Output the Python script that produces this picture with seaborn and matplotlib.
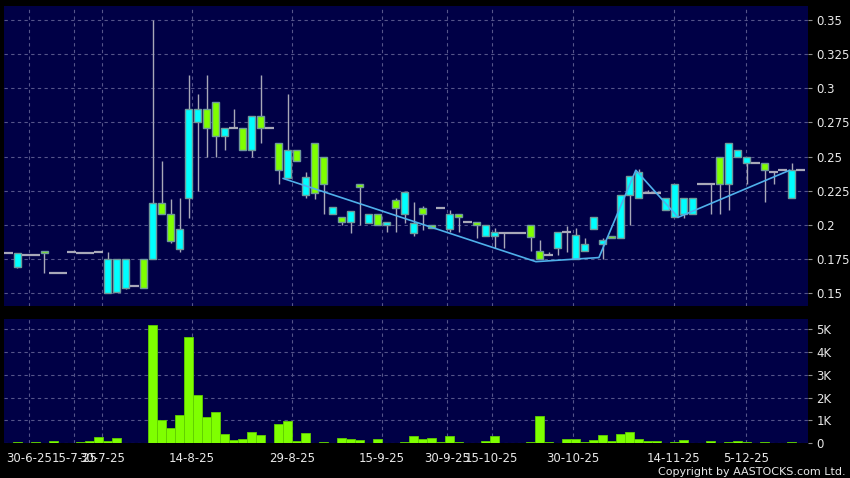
import numpy as np
import pandas as pd
import matplotlib
matplotlib.use("Agg")
import matplotlib.pyplot as plt
import seaborn as sns

# one slot per traded day
opens = [0.179, 0.169, 0.178, 0.178, 0.181, 0.165, 0.165, 0.180, 0.179, 0.179,
         0.180, 0.150, 0.151, 0.154, 0.155, 0.175, 0.175, 0.216, 0.208, 0.182,
         0.220, 0.275, 0.285, 0.290, 0.265, 0.271, 0.271, 0.255, 0.280, 0.271,
         0.260, 0.234, 0.255, 0.222, 0.260, 0.250, 0.208, 0.206, 0.202, 0.230,
         0.201, 0.208, 0.200, 0.218, 0.208, 0.194, 0.212, 0.200, 0.212, 0.197,
         0.208, 0.202, 0.202, 0.192, 0.192, 0.194, 0.194, 0.194, 0.200, 0.181,
         0.178, 0.183, 0.195, 0.175, 0.181, 0.197, 0.186, 0.192, 0.190, 0.222,
         0.220, 0.2235, 0.2235, 0.211, 0.206, 0.208, 0.208, 0.230, 0.230, 0.250,
         0.230, 0.250, 0.245, 0.245, 0.245, 0.239, 0.240, 0.220, 0.240]
highs = [0.179, 0.179, 0.178, 0.178, 0.181, 0.165, 0.165, 0.180, 0.179, 0.179,
         0.180, 0.180, 0.175, 0.175, 0.155, 0.175, 0.350, 0.247, 0.219, 0.220,
         0.310, 0.296, 0.310, 0.290, 0.271, 0.285, 0.271, 0.280, 0.310, 0.271,
         0.260, 0.296, 0.255, 0.239, 0.260, 0.250, 0.213, 0.206, 0.210, 0.230,
         0.208, 0.208, 0.202, 0.220, 0.224, 0.217, 0.214, 0.200, 0.212, 0.211,
         0.208, 0.202, 0.202, 0.200, 0.198, 0.194, 0.194, 0.194, 0.200, 0.189,
         0.180, 0.195, 0.199, 0.198, 0.190, 0.2055, 0.190, 0.192, 0.222, 0.236,
         0.241, 0.2255, 0.2235, 0.220, 0.230, 0.220, 0.220, 0.230, 0.230, 0.250,
         0.260, 0.255, 0.250, 0.245, 0.245, 0.239, 0.240, 0.245, 0.240]
lows = [0.179, 0.168, 0.178, 0.178, 0.165, 0.165, 0.165, 0.180, 0.179, 0.179,
        0.180, 0.150, 0.151, 0.153, 0.155, 0.154, 0.175, 0.208, 0.187, 0.180,
        0.205, 0.225, 0.250, 0.250, 0.255, 0.271, 0.255, 0.250, 0.260, 0.271,
        0.230, 0.234, 0.247, 0.220, 0.219, 0.208, 0.208, 0.200, 0.194, 0.200,
        0.201, 0.200, 0.195, 0.195, 0.201, 0.192, 0.196, 0.198, 0.212, 0.195,
        0.195, 0.202, 0.190, 0.192, 0.183, 0.183, 0.194, 0.194, 0.181, 0.175,
        0.178, 0.178, 0.180, 0.175, 0.181, 0.197, 0.175, 0.190, 0.190, 0.200,
        0.220, 0.2235, 0.2235, 0.211, 0.206, 0.205, 0.208, 0.230, 0.208, 0.208,
        0.211, 0.250, 0.230, 0.245, 0.217, 0.230, 0.240, 0.220, 0.240]
closes = [0.179, 0.179, 0.178, 0.178, 0.179, 0.165, 0.165, 0.180, 0.179, 0.179,
          0.180, 0.175, 0.175, 0.175, 0.155, 0.154, 0.216, 0.208, 0.188, 0.197,
          0.285, 0.285, 0.271, 0.265, 0.271, 0.271, 0.255, 0.280, 0.271, 0.271,
          0.240, 0.255, 0.247, 0.235, 0.223, 0.230, 0.213, 0.202, 0.210, 0.228,
          0.208, 0.200, 0.202, 0.212, 0.224, 0.201, 0.208, 0.198, 0.212, 0.208,
          0.206, 0.202, 0.200, 0.200, 0.195, 0.194, 0.194, 0.194, 0.191, 0.175,
          0.178, 0.195, 0.195, 0.1925, 0.186, 0.2055, 0.189, 0.190, 0.222, 0.236,
          0.239, 0.2235, 0.2235, 0.220, 0.230, 0.220, 0.220, 0.230, 0.230, 0.230,
          0.260, 0.255, 0.250, 0.245, 0.240, 0.239, 0.240, 0.240, 0.240]
volumes = [0, 70, 0, 40, 0, 100, 30, 0, 40, 90,
           260, 100, 230, 0, 0, 0, 5170, 1020, 660, 1240,
           4660, 2110, 1170, 1370, 410, 150, 200, 500, 350, 0,
           850, 960, 100, 450, 0, 40, 0, 230, 170, 130,
           0, 190, 0, 0, 40, 320, 190, 220, 40, 330,
           40, 0, 20, 100, 320, 0, 0, 0, 40, 1200,
           40, 0, 190, 200, 60, 150, 360, 100, 390, 500,
           170, 100, 100, 0, 40, 160, 0, 0, 100, 0,
           40, 90, 40, 0, 70, 0, 0, 40, 0]

# zigzag overlay
zz_slot = [30.5, 58.6, 65.6, 69.7, 74.4, 86.8]
zz_price = [0.234, 0.173, 0.176, 0.240, 0.2055, 0.240]

date_pos = [2.3, 7.3, 10.4, 20.4, 31.5, 41.5, 48.7, 53.7, 62.7, 73.9, 81.9]
date_labels = ["30-6-25", "15-7-25", "30-7-25", "14-8-25", "29-8-25", "15-9-25",
               "30-9-25", "15-10-25", "30-10-25", "14-11-25", "5-12-25"]
price_ticks = [0.15, 0.175, 0.2, 0.225, 0.25, 0.275, 0.3, 0.325, 0.35]
price_labels = ["0.15", "0.175", "0.2", "0.225", "0.25", "0.275", "0.3", "0.325", "0.35"]
vol_ticks = [0, 1000, 2000, 3000, 4000, 5000]
vol_labels = ["0", "1K", "2K", "3K", "4K", "5K"]

bg = "#000046"
cyan = "#00ffff"
lime = "#7fff00"
edge = "#6f9a9a"
wick = "#a8a8b8"
gridc = "#55558a"
txt = "#e8e8e8"

sns.set_style("dark", {"axes.facecolor": bg, "figure.facecolor": "black",
                       "axes.edgecolor": bg, "grid.color": gridc})
plt.rcParams["font.family"] = ["DejaVu Sans"]

df = pd.DataFrame({"open": opens, "high": highs, "low": lows,
                   "close": closes, "volume": volumes})
df["slot"] = np.arange(len(df))

fig = plt.figure(figsize=(8.5, 4.78), dpi=100)
ax = fig.add_axes([0.0047, 0.3598, 0.9459, 0.6276])
axv = fig.add_axes([0.0047, 0.0726, 0.9459, 0.2600])

xlim = (-0.5, 88.83)

# candles
up = df[df.close > df.open]
dn = df[df.close < df.open]
fl = df[df.close == df.open]
ax.vlines(df.slot, df.low, df.high, color=wick, lw=1, zorder=2)
ax.bar(up.slot, up.close - up.open, bottom=up.open, width=0.82,
       color=cyan, edgecolor=edge, linewidth=1, zorder=3)
ax.bar(dn.slot, dn.open - dn.close, bottom=dn.close, width=0.82,
       color=lime, edgecolor=edge, linewidth=1, zorder=3)
ax.hlines(fl.close, fl.slot - 0.5, fl.slot + 0.5, color=wick, lw=1.6, zorder=3)

sns.lineplot(x=zz_slot, y=zz_price, ax=ax, color="#4fb0ea", lw=1.2,
             sort=False, zorder=4)

ax.set_xlim(*xlim)
ax.set_ylim(0.1405, 0.3603)
ax.set_xticks(date_pos)
ax.set_xticklabels([])
ax.set_yticks(price_ticks)
ax.set_yticklabels(price_labels)
ax.yaxis.tick_right()
ax.tick_params(axis="x", length=0)
ax.tick_params(axis="y", length=3, color="#909090", labelcolor=txt,
               labelsize=8.5, pad=3)
ax.grid(True, color=gridc, ls=(0, (3, 3)), lw=0.8)
for s in ax.spines.values():
    s.set_visible(False)

# volume
sns.barplot(x=df.slot, y=df.volume, ax=axv, color=lime, saturation=1,
            width=0.92, edgecolor="#5fcf00", linewidth=0.6, zorder=3)
axv.set_xlim(*xlim)
axv.set_ylim(0, 5440)
axv.set_xticks(date_pos)
axv.set_xticklabels(date_labels)
axv.set_yticks(vol_ticks)
axv.set_yticklabels(vol_labels)
axv.yaxis.tick_right()
axv.set_xlabel("")
axv.set_ylabel("")
axv.tick_params(axis="both", length=3, color="#909090", labelcolor=txt,
                labelsize=8.5, pad=3)
axv.grid(True, color=gridc, ls=(0, (3, 3)), lw=0.8)
for s in axv.spines.values():
    s.set_visible(False)

fig.text(0.995, 0.013, "Copyright by AASTOCKS.com Ltd.", ha="right",
         va="center", color=txt, fontsize=8)

fig.savefig("out.png", dpi=100, facecolor="black")
